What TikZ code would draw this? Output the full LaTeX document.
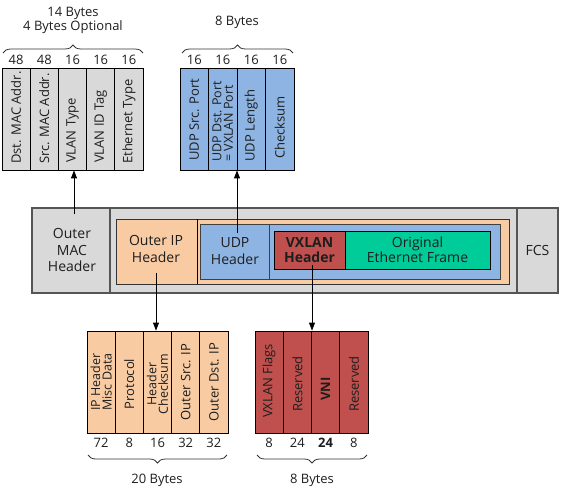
\documentclass[tikz,border=0pt]{standalone}
\usepackage{fontspec}
\setmainfont{Open Sans}
\usetikzlibrary{arrows.meta,decorations.pathreplacing}
\definecolor{grayF}{HTML}{D9D9D9}
\definecolor{orangeF}{HTML}{F8CBA3}
\definecolor{blueF}{HTML}{8EB4E3}
\definecolor{redF}{HTML}{C0504D}
\definecolor{greenF}{HTML}{00CC99}
\definecolor{txt}{HTML}{1E1E1E}
\definecolor{frameC}{HTML}{555555}
\begin{document}
\begin{tikzpicture}[x=1pt,y=-1pt,
  every node/.style={text=txt},
  fieldbox/.style={draw=black,line width=0.8pt,minimum width=28.2pt,minimum height=102pt,inner sep=0pt},
  vlab/.style={rotate=90,anchor=west,inner sep=0pt,align=left,font=\fontsize{13}{10}\selectfont},
  clab/.style={rotate=90,anchor=center,inner sep=0pt,align=center,font=\fontsize{13}{10.5}\selectfont},
  twoline/.style={font=\fontsize{12.5}{11.5}\selectfont},
  num/.style={font=\fontsize{13}{14}\selectfont},
  lbl/.style={font=\fontsize{13}{14}\selectfont,align=center},
  mid/.style={font=\fontsize{14}{16.5}\selectfont,align=center},
  brc/.style={draw=black!80,line width=0.8pt,decorate,decoration={brace,amplitude=8pt}},
  arr/.style={draw=black,line width=0.9pt,-{Triangle[length=8pt,width=6pt]}}
]
\useasboundingbox (0,0) rectangle (561,495);

% ---------- top-left: Ethernet header fields ----------
\node[lbl] (ethB) at (73,20) {14 Bytes\\4 Bytes Optional};
\draw[brc] (3,53) -- (143,53);
\foreach \n/\x/\b in {e1/16.1/48,e2/44.3/48,e3/72.5/16,e4/100.7/16,e5/128.9/16}{
  \node[num] (\n n) at (\x,60) {\b};
  \node[fieldbox,fill=grayF] (\n) at (\x,119) {};}
\node[vlab] (e1t) at (16.1,164) {Dst. MAC Addr.};
\node[vlab] (e2t) at (44.3,164) {Src. MAC Addr.};
\node[vlab] (e3t) at (72.5,163) {VLAN Type};
\node[vlab] (e4t) at (100.7,163) {VLAN ID Tag};
\node[vlab] (e5t) at (128.9,164) {Ethernet Type};

% ---------- top: UDP header fields ----------
\node[lbl] (udpB) at (237,22) {8 Bytes};
\draw[brc] (182,53) -- (293,53);
\foreach \n/\x in {u1/194.25,u2/222.75,u3/251.25,u4/279.75}{
  \node[num] (\n n) at (\x,60) {16};
  \node[fieldbox,fill=blueF,minimum width=28.5pt] (\n) at (\x,119) {};}
\node[vlab] (u1t) at (194.25,161) {UDP Src. Port};
\node[vlab,twoline] (u2t) at (222.75,162) {UDP Dst. Port\\= VXLAN Port};
\node[vlab] (u3t) at (251.25,162) {UDP Length};
\node[vlab] (u4t) at (279.75,159) {Checksum};

% ---------- middle: encapsulated frame ----------
\draw[draw=frameC,fill=grayF,line width=1.1pt] (32,208) rectangle (558,293);
\draw[draw=frameC,line width=1.1pt] (110,208) -- (110,293);
\draw[draw=frameC,line width=1.1pt] (517,208) -- (517,293);
\draw[draw=black!80,fill=orangeF,line width=0.8pt] (116,219) rectangle (509,284);
\draw[draw=black,line width=0.8pt] (197,219) -- (197,284);
\draw[draw=black!75,fill=blueF,line width=0.8pt] (200,224) rectangle (500,279);
\draw[draw=black!75,line width=0.8pt] (269,224) -- (269,279);
\draw[draw=black,fill=redF,line width=0.8pt] (274,231) rectangle (345,269);
\draw[draw=black,fill=greenF,line width=0.8pt] (345,231) rectangle (490,269);
\node[mid] (macH) at (72,250) {Outer\\MAC\\Header};
\node[mid] (ipH) at (156,249) {Outer IP\\Header};
\node[mid] (udpH) at (235,251) {UDP\\Header};
\node[mid,font=\fontsize{14}{15}\selectfont\bfseries] (vxH) at (309.5,250) {VXLAN\\Header};
\node[mid,font=\fontsize{14}{15}\selectfont] (origH) at (417.5,250) {Original\\Ethernet Frame};
\node[mid] (fcsH) at (537.5,250) {FCS};

% ---------- bottom-left: IP header fields ----------
\foreach \n/\x/\b in {i1/101.1/72,i2/129.3/8,i3/157.5/16,i4/185.7/32,i5/213.9/32}{
  \node[fieldbox,fill=orangeF] (\n) at (\x,382) {};
  \node[num] (\n n) at (\x,443) {\b};}
\node[clab,twoline] (i1t) at (101.1,382) {IP Header\\Misc Data};
\node[clab] (i2t) at (129.3,384) {Protocol};
\node[clab,twoline] (i3t) at (157.5,384) {Header\\Checksum};
\node[clab] (i4t) at (185.7,382) {Outer Src. IP};
\node[clab] (i5t) at (213.9,382) {Outer Dst. IP};
\draw[brc] (227,455) -- (88,455);
\node[lbl] (ipB) at (157,480) {20 Bytes};

% ---------- bottom-right: VXLAN header fields ----------
\foreach \n/\x in {v1/269.1,v2/297.4,v3/325.6,v4/353.9}
  \node[fieldbox,fill=redF,minimum width=28.25pt] (\n) at (\x,382) {};
\node[clab] (v1t) at (269.1,381) {VXLAN Flags};
\node[clab] (v2t) at (297.4,384) {Reserved};
\node[clab,font=\fontsize{13}{11}\selectfont\bfseries] (v3t) at (325.6,389) {VNI};
\node[clab] (v4t) at (353.9,384) {Reserved};
\foreach \n/\x/\b in {v1/269.1/8,v2/297.4/24,v4/353.9/8}
  \node[num] (\n n) at (\x,443) {\b};
\node[num,font=\fontsize{13}{14}\selectfont\bfseries] (v3n) at (325.6,443) {24};
\draw[brc] (367,455) -- (257,455);
\node[lbl] (vxB) at (312,480) {8 Bytes};

% ---------- connectors ----------
\coordinate (macA) at (74,214);
\coordinate (udpA) at (237,233);
\coordinate (ipA) at (156,273);
\coordinate (vxA) at (312,265);
\draw[arr] (macA) -- (macA |- e3.south);
\draw[arr] (udpA) -- (udpA |- u2.south);
\draw[arr] (ipA) -- (ipA |- i3.north);
\draw[arr] (vxA) -- (vxA |- v2.north);
\end{tikzpicture}
\end{document}
